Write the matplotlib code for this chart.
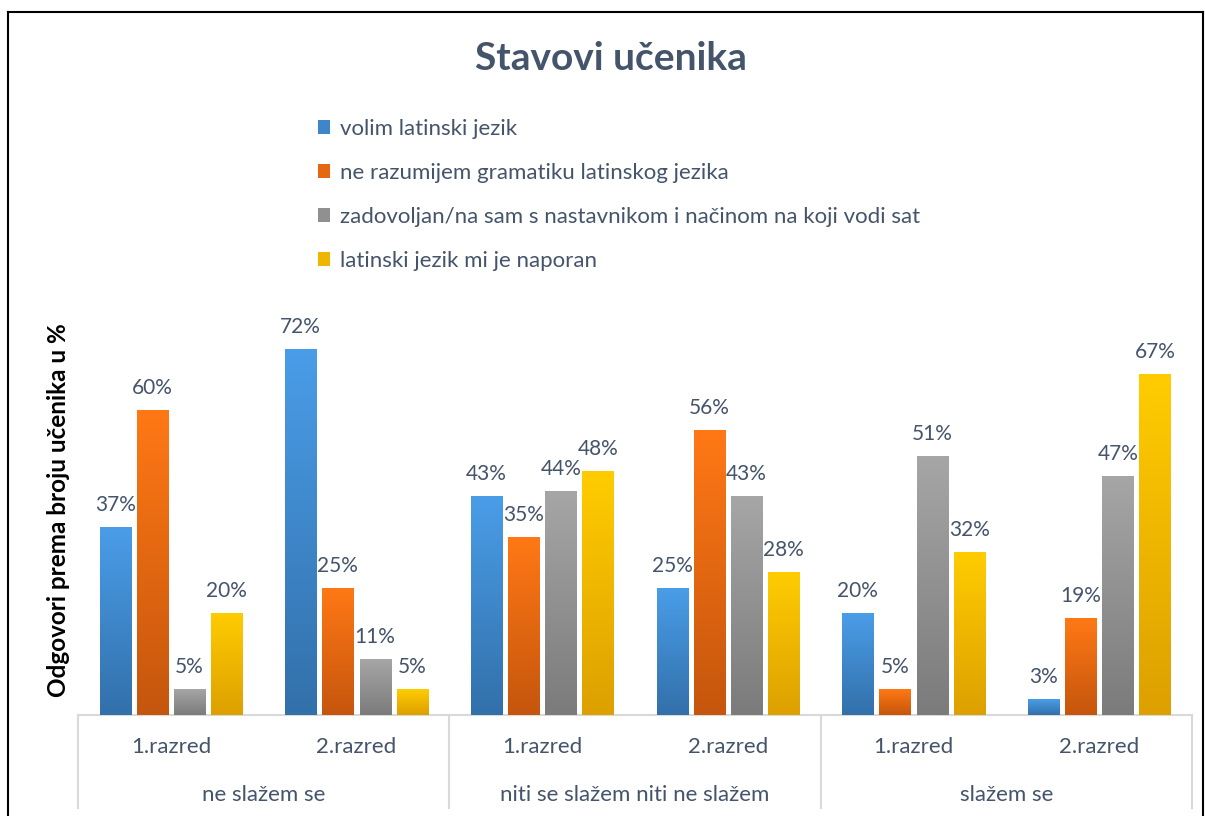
import numpy as np
import matplotlib
matplotlib.use('Agg')
import matplotlib.pyplot as plt
import matplotlib.transforms as mtransforms
from matplotlib.patches import Patch
from matplotlib.colors import LinearSegmentedColormap

plt.rcParams['font.family'] = ['Lato', 'DejaVu Sans']

groups = ['ne slažem se', 'niti se slažem niti ne slažem', 'slažem se']
classes = ['1.razred', '2.razred']
series = ['volim latinski jezik',
          'ne razumijem gramatiku latinskog jezika',
          'zadovoljan/na sam s nastavnikom i načinom na koji vodi sat',
          'latinski jezik mi je naporan']
volim = [37, 72, 43, 25, 20, 3]
ne_razumijem = [60, 25, 35, 56, 5, 19]
zadovoljan = [5, 11, 44, 43, 51, 47]
naporan = [20, 5, 48, 28, 32, 67]
values = [volim, ne_razumijem, zadovoljan, naporan]

# gradient top -> bottom for each series
top_cols = ['#4A9DE8', '#FF7815', '#A6A6A6', '#FFCC00']
bot_cols = ['#3270AA', '#C5560D', '#7B7B7B', '#DDA000']
mid_cols = ['#3E86C9', '#E56711', '#909090', '#EEB600']

text_col = '#44546A'
line_col = '#D9D9D9'

fig = plt.figure(figsize=(12.05, 8.16), dpi=100)
ax = fig.add_axes([78 / 1205, 101 / 816, (1192 - 78) / 1205, (715 - 309) / 816])
ax.set_xlim(0, 6)
ax.set_ylim(0, 80)
ax.axis('off')

n = len(values)
pitch = 0.2
width = 0.167
grad = np.linspace(0, 1, 256).reshape(-1, 1)
for i, vals in enumerate(values):
    cmap = LinearSegmentedColormap.from_list('g%d' % i, [bot_cols[i], top_cols[i]])
    xs = np.arange(len(vals)) + 0.5 + (i - (n - 1) / 2) * pitch
    bars = ax.bar(xs, vals, width=width, color='none', edgecolor='none')
    for b, v in zip(bars, vals):
        x0 = b.get_x()
        ax.imshow(grad, cmap=cmap, origin='lower', aspect='auto',
                  extent=(x0, x0 + width, 0, v), zorder=2)
        ax.annotate('%d%%' % v, (x0 + width / 2, v), xytext=(0, 9),
                    textcoords='offset points', ha='center', va='bottom',
                    fontsize=15, color=text_col)
ax.set_xlim(0, 6)
ax.set_ylim(0, 80)

# category axis
ax.plot([0, 6], [0, 0], color=line_col, lw=1.5, clip_on=False, zorder=1)
trans = mtransforms.blended_transform_factory(ax.transData, fig.transFigure)
for g in range(len(groups) + 1):
    ax.plot([2 * g, 2 * g], [101 / 816, 8 / 816], color=line_col, lw=1.5,
            transform=trans, clip_on=False)
for k in range(6):
    ax.text(k + 0.5, 69 / 816, classes[k % 2], transform=trans,
            ha='center', va='center', fontsize=16, color=text_col)
for g, name in enumerate(groups):
    ax.text(2 * g + 1, 21 / 816, name, transform=trans,
            ha='center', va='center', fontsize=16, color=text_col)

fig.text(611 / 1205, 1 - 59 / 816, 'Stavovi učenika', ha='center', va='center',
         fontsize=28, fontweight='bold', color=text_col)
fig.text(59 / 1205, 1 - 510 / 816, 'Odgovori prema broju učenika u %', rotation=90,
         ha='center', va='center', fontsize=17.5, fontweight='bold', color='black')

handles = [Patch(facecolor=c, edgecolor='none') for c in mid_cols]
fig.legend(handles, series, loc='upper left', bbox_to_anchor=(298 / 1205, 1 - 99 / 816),
           frameon=False, fontsize=16, labelcolor=text_col, handlelength=0.55,
           handleheight=0.55, handletextpad=0.45, labelspacing=1.08)

# outer frame
fig.add_artist(plt.Line2D([8 / 1205, 8 / 1205], [0, 1 - 12 / 816], color='black', lw=1.5))
fig.add_artist(plt.Line2D([8 / 1205, 1203 / 1205], [1 - 12 / 816, 1 - 12 / 816], color='black', lw=1.5))
fig.add_artist(plt.Line2D([1203 / 1205, 1203 / 1205], [0, 1 - 12 / 816], color='black', lw=1.5))

fig.savefig('out.png', dpi=100)
